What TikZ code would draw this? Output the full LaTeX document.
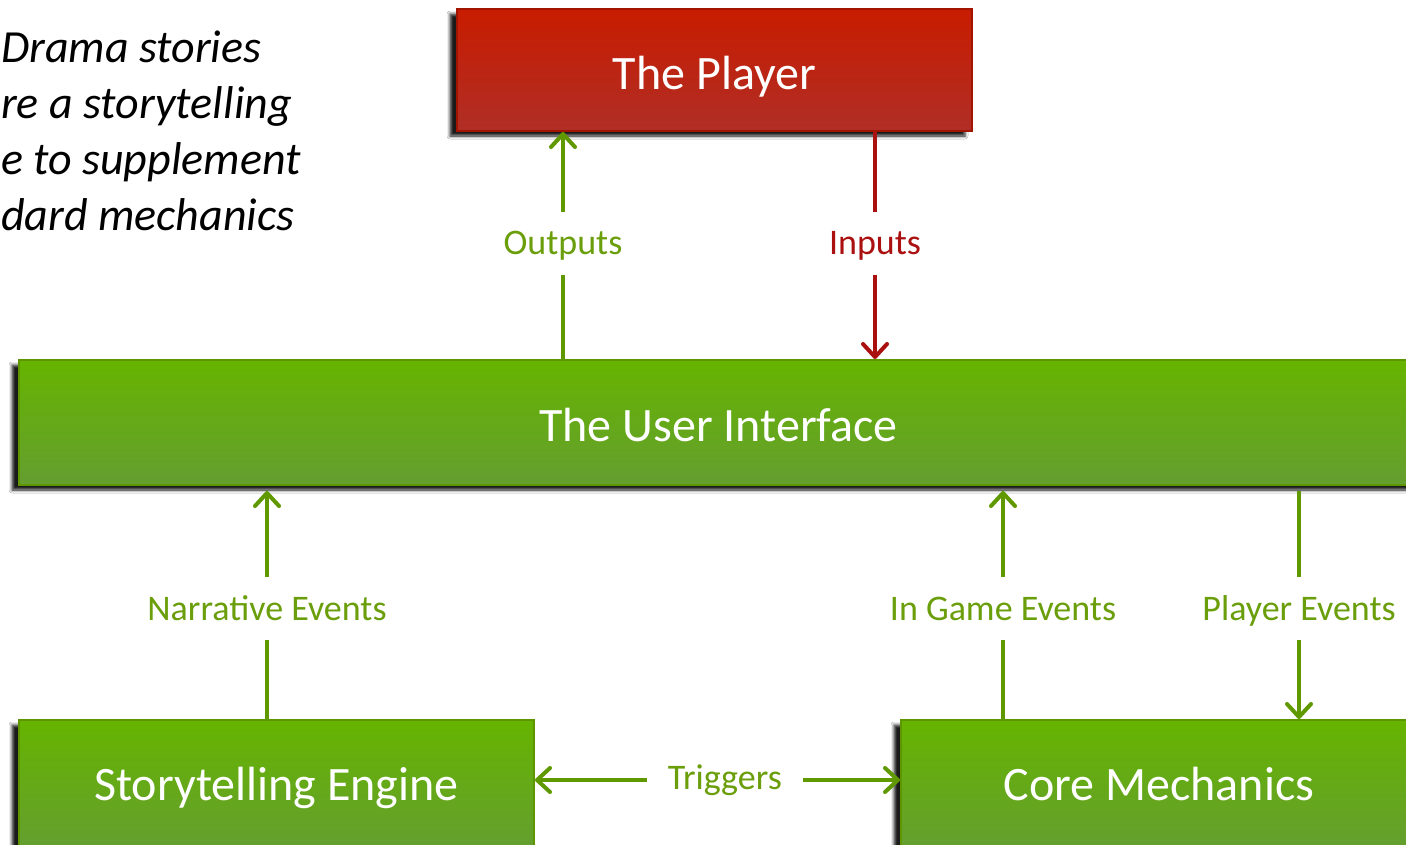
\documentclass[tikz,border=0pt]{standalone}
\usepackage{fontspec}
\setmainfont{Carlito}
\usetikzlibrary{arrows.meta,shadows,shadows.blur}
\definecolor{gtop}{RGB}{102,180,0}
\definecolor{gbot}{RGB}{100,158,48}
\definecolor{gborder}{RGB}{94,150,0}
\definecolor{garrow}{RGB}{96,152,0}
\definecolor{glabel}{RGB}{106,158,10}
\definecolor{rtop}{RGB}{200,28,0}
\definecolor{rbot}{RGB}{176,46,38}
\definecolor{rborder}{RGB}{160,20,0}
\definecolor{rarrow}{RGB}{170,16,16}
\tikzset{
  box/.style={rectangle, draw, line width=2pt, text=white, inner sep=0pt,
    font=\fontsize{48}{58}\selectfont, text height=31pt, text depth=0pt,
    blur shadow={shadow xshift=-7pt, shadow yshift=-5pt, shadow blur radius=3pt, shadow opacity=90}},
  gbox/.style={box, draw=gborder, top color=gtop, bottom color=gbot},
  rbox/.style={box, draw=rborder, top color=rtop, bottom color=rbot},
  lowtext/.style={text height=38pt},
  garr/.style={draw=garrow, line width=4pt, -{Straight Barb[length=13pt,width=24pt,round]}},
  rarr/.style={draw=rarrow, line width=4pt, -{Straight Barb[length=13pt,width=24pt,round]}},
  lbl/.style={fill=white, inner xsep=21pt, inner ysep=20pt, text height=23pt, text depth=0pt,
    font=\fontsize{36}{43}\selectfont},
  glbl/.style={lbl, text=glabel},
  rlbl/.style={lbl, text=rarrow},
  side/.style={anchor=base west, inner sep=0pt, font=\fontsize{46}{57}\selectfont\itshape}
}
\begin{document}
\begin{tikzpicture}[x=1pt,y=-1pt]
\clip (0,0) rectangle (1406,844);
\fill[white] (0,0) rectangle (1406,844);
% side text
\node[side] (t1) at (1,62) {Drama stories};
\node[side] (t2) at (1,118) {re a storytelling};
\node[side] (t3) at (1,174) {e to supplement};
\node[side] (t4) at (1,230) {dard mechanics};
% boxes
\node[rbox, lowtext, minimum width=515pt, minimum height=122pt] (player) at (714.5,70) {The Player};
\node[gbox, lowtext, minimum width=1399pt, minimum height=125pt] (ui) at (718.5,422.5) {The User Interface};
\node[gbox, minimum width=515pt, minimum height=130pt] (story) at (276.5,785) {Storytelling Engine};
\node[gbox, minimum width=516pt, minimum height=130pt] (core) at (1159,785) {Core Mechanics};
% connectors
\coordinate (xo) at (563,0);
\coordinate (xi) at (875,0);
\coordinate (xn) at (267,0);
\coordinate (xg) at (1003,0);
\coordinate (xp) at (1299,0);
\coordinate (yt) at (0,780);
\draw[garr] (ui.north -| xo) -- (player.south -| xo) node[glbl, pos=0.509] (lout) {Outputs};
\draw[rarr] (player.south -| xi) -- (ui.north -| xi) node[rlbl, pos=0.491] (lin) {Inputs};
\draw[garr, shorten >=5pt] (story.north -| xn) -- (ui.south -| xn) node[glbl, pos=0.474] (lnar) {Narrative Events};
\draw[garr, shorten >=5pt] (core.north -| xg) -- (ui.south -| xg) node[glbl, pos=0.474] (lgame) {In Game Events};
\draw[garr, shorten <=5pt] (ui.south -| xp) -- (core.north -| xp) node[glbl, pos=0.526] (lplay) {Player Events};
\draw[garr, {Straight Barb[length=13pt,width=24pt,round]}-{Straight Barb[length=13pt,width=24pt,round]}] (story.east |- yt) -- (core.west |- yt) node[glbl, pos=0.52, yshift=2.5pt] (ltrig) {Triggers};
\end{tikzpicture}
\end{document}
